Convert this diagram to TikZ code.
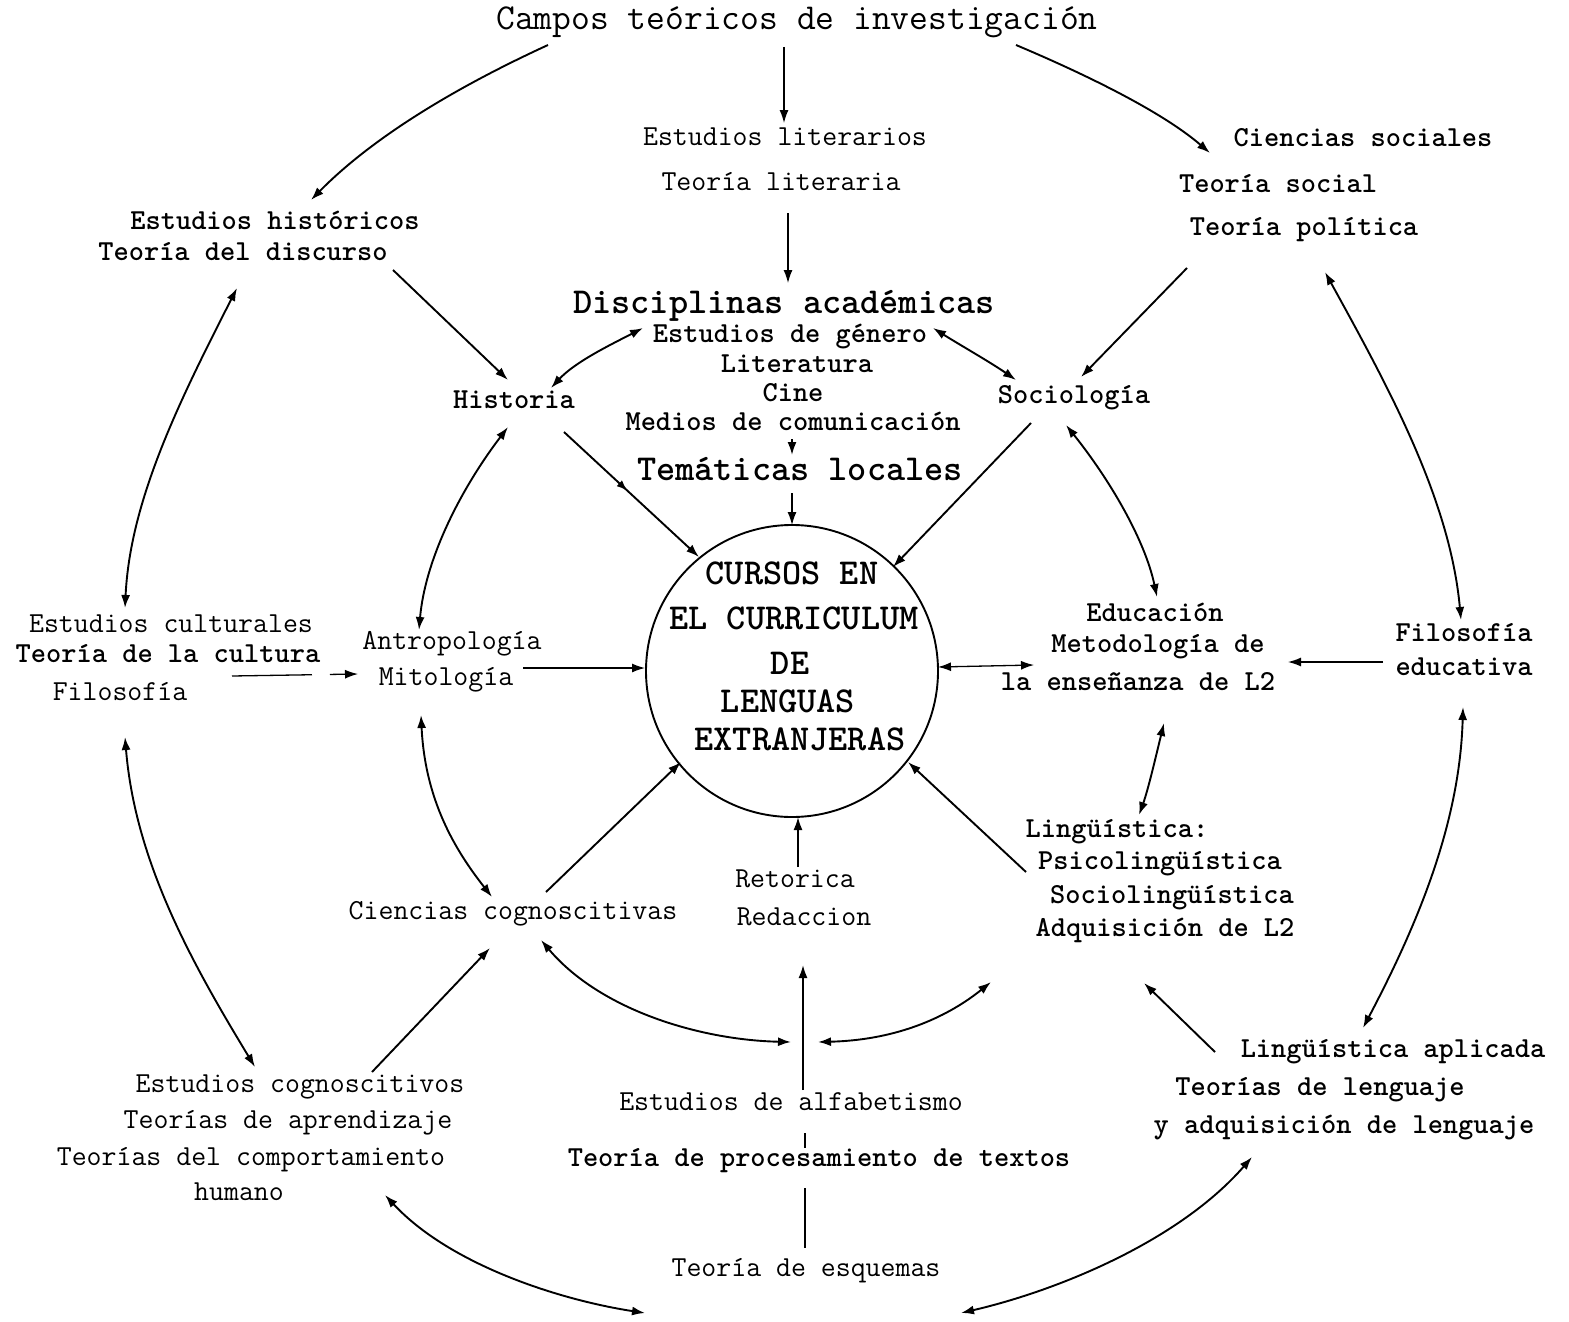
\documentclass[tikz,border=0pt]{standalone}
\usetikzlibrary{arrows.meta,decorations.markings}
\tikzset{
 sm/.style={font=\ttfamily\fontsize{29}{34}\selectfont, inner sep=0pt, text height=15pt, text depth=4pt, anchor=center},
 smb/.style={sm, font=\ttfamily\bfseries\fontsize{29}{34}\selectfont},
 big/.style={font=\ttfamily\fontsize{36.5}{42}\selectfont, inner sep=0pt, text height=20pt, text depth=5pt, anchor=center},
 bigb/.style={big, font=\ttfamily\bfseries\fontsize{36.5}{42}\selectfont},
 tip/.tip={Latex[length=13pt,width=9pt]},
 arr/.style={line width=1.9pt, -tip},
 darr/.style={line width=1.9pt, tip-tip},
 thin/.style={line width=1.3pt},
 midarrow/.style={postaction={decorate}, decoration={markings, mark=at position 0.47 with {\arrow{Latex[length=11pt,width=8pt]}}}}
}
\begin{document}
\begin{tikzpicture}[x=1pt,y={(0pt,-1pt)}]
\fill[white] (0,0) rectangle (1569,1322);
\useasboundingbox (0,0) rectangle (1569,1322);

% ---------- text nodes ----------
\node[big]  (title) at (797,22)  {Campos teóricos de investigación};
\node[sm]   (lit1) at (785,140) {Estudios literarios};
\node[sm]   (lit2) at (781,185) {Teoría literaria};
\node[smb]  (his1) at (275,224) {Estudios históricos};
\node[smb]  (his2) at (243,255) {Teoría del discurso};
\node[smb]  (cs1) at (1363,141) {Ciencias sociales};
\node[smb]  (cs2) at (1278,187) {Teoría social};
\node[smb]  (cs3) at (1304,230) {Teoría política};
\node[bigb] (disc) at (784,306) {Disciplinas académicas};
\node[smb]  (d1) at (790,337) {Estudios de género};
\node[smb]  (d2) at (797,367) {Literatura};
\node[smb]  (d3) at (793,396) {Cine};
\node[smb]  (d4) at (793,425) {Medios de comunicación};
\node[bigb] (tem) at (800,473) {Temáticas locales};
\node[smb]  (histo) at (514,403) {Historia};
\node[smb]  (socio) at (1074,398) {Sociología};

\node[draw, circle, line width=1.9pt, minimum size=292pt, inner sep=0pt] (curso) at (792,671) {};
\node[bigb] (c1) at (792,577) {CURSOS EN};
\node[bigb] (c2) at (794,622) {EL CURRICULUM};
\node[bigb] (c3) at (790,667) {DE};
\node[bigb] (c4) at (788,705) {LENGUAS};
\node[bigb] (c5) at (800,743) {EXTRANJERAS};

\node[smb] (edu1) at (1155,616) {Educación};
\node[smb] (edu2) at (1158,647) {Metodología de};
\node[smb] (edu3) at (1138,685) {la enseñanza de L2};
\node[smb] (fe1) at (1464,636) {Filosofía};
\node[smb] (fe2) at (1464,670) {educativa};
\node[sm]  (cu1) at (171,627) {Estudios culturales};
\node[smb] (cu2) at (168,657) {Teoría de la cultura};
\node[sm]  (cu3) at (120,695) {Filosofía};
\node[sm]  (an1) at (452,644) {Antropología};
\node[sm]  (an2) at (446,680) {Mitología};
\node[smb] (li1) at (1117,832) {Lingüística:};
\node[smb] (li2) at (1160,864) {Psicolingüística};
\node[smb] (li3) at (1172,898) {Sociolingüística};
\node[smb] (li4) at (1165,931) {Adquisición de L2};
\node[sm]  (cog) at (513,914) {Ciencias cognoscitivas};
\node[sm]  (re1) at (795,882) {Retorica};
\node[sm]  (re2) at (804,920) {Redaccion};
\node[sm]  (ec1) at (300,1087) {Estudios cognoscitivos};
\node[sm]  (ec2) at (288,1123) {Teorías de aprendizaje};
\node[sm]  (ec3) at (251,1160) {Teorías del comportamiento};
\node[sm]  (ec4) at (239,1195) {humano};
\node[sm]  (al1) at (791,1105) {Estudios de alfabetismo};
\node[smb] (al2) at (819,1161) {Teoría de procesamiento de textos};
\node[sm]  (al3) at (806,1271) {Teoría de esquemas};
\node[smb] (la1) at (1393,1052) {Lingüística aplicada};
\node[smb] (la2) at (1320,1090) {Teorías de lenguaje};
\node[smb] (la3) at (1344,1128) {y adquisición de lenguaje};

% ---------- connector end points ----------
\coordinate (tA) at (548,45);   \coordinate (hisT) at (311,200);
\coordinate (tB) at (784,47);   \coordinate (litT) at (784,123);
\coordinate (litB) at (788,213); \coordinate (discT) at (788,283);
\coordinate (tC) at (1016,45);  \coordinate (csT) at (1210,153);
\coordinate (his2B) at (393,270); \coordinate (histoT) at (508,380);
\coordinate (d1L) at (643,328); \coordinate (histoR) at (551,388);
\coordinate (d1R) at (933,328); \coordinate (socioT) at (1016,380);
\coordinate (cs3B) at (1187,268); \coordinate (socioT2) at (1081,377);
\coordinate (his2L) at (237,288); \coordinate (cuT) at (125,608);
\coordinate (cs3R) at (1325,272); \coordinate (feT) at (1461,620);
\coordinate (histoB) at (508,427); \coordinate (anT) at (419,630);
\coordinate (histoB2) at (564,432); \coordinate (cNW) at (699,557);
\coordinate (socioB) at (1031,423); \coordinate (cNE) at (893,567);
\coordinate (socioB2) at (1066,425); \coordinate (eduT) at (1157,597);
\coordinate (d4B) at (792,439); \coordinate (temT) at (792,455);
\coordinate (temB) at (792,493); \coordinate (cN) at (792,525);
\coordinate (cuR) at (232,676); \coordinate (anL) at (358,674);
\coordinate (anR) at (523,668); \coordinate (cW) at (645,668);
\coordinate (eduL) at (1034,665); \coordinate (cE) at (938,667);
\coordinate (feL) at (1383,662); \coordinate (eduR) at (1288,662);
\coordinate (anB) at (421,715); \coordinate (cogT) at (492,897);
\coordinate (eduB) at (1164,723); \coordinate (liT) at (1139,815);
\coordinate (liL) at (1026,872); \coordinate (cSE) at (908,762);
\coordinate (cuB) at (125,737); \coordinate (ecT) at (255,1067);
\coordinate (feB) at (1463,707); \coordinate (laT) at (1363,1028);
\coordinate (cogR) at (546,892); \coordinate (cSW) at (681,762);
\coordinate (reT) at (798,867); \coordinate (cS) at (798,817);
\coordinate (ecR) at (372,1072); \coordinate (cogB) at (490,948);
\coordinate (cogB2) at (541,940); \coordinate (vL) at (791,1042);
\coordinate (alT) at (803,1090); \coordinate (reB) at (803,965);
\coordinate (vR) at (818,1042); \coordinate (liB) at (991,982);
\coordinate (laL) at (1215,1052); \coordinate (liB2) at (1144,983);
\coordinate (al1B) at (805,1133); \coordinate (al2T) at (805,1148);
\coordinate (al2B) at (805,1188); \coordinate (al3T) at (805,1248);
\coordinate (ecB) at (385,1195); \coordinate (botL) at (645,1313);
\coordinate (laB) at (1252,1157); \coordinate (botR) at (961,1313);

% ---------- connectors ----------
\draw[arr] (tA) .. controls (450,90) and (370,140) .. (hisT);
\draw[arr, thin] (tB) -- (litT);
\draw[arr, thin] (litB) -- (discT);
\draw[arr] (tC) .. controls (1080,72) and (1160,110) .. (csT);
\draw[arr] (his2B) -- (histoT);
\draw[darr] (d1L) .. controls (610,345) and (575,362) .. (histoR);
\draw[darr] (d1R) .. controls (960,345) and (990,362) .. (socioT);
\draw[arr] (cs3B) -- (socioT2);
\draw[darr] (his2L) .. controls (180,400) and (130,500) .. (cuT);
\draw[darr] (cs3R) .. controls (1390,390) and (1450,500) .. (feT);
\draw[darr] (histoB) .. controls (460,490) and (425,560) .. (anT);
\draw[arr, midarrow] (histoB2) -- (cNW);
\draw[arr] (socioB) -- (cNE);
\draw[darr] (socioB2) .. controls (1110,480) and (1145,540) .. (eduT);
\draw[arr] (d4B) -- (temT);
\draw[arr, thin] (temB) -- (cN);
\draw[arr, thin, dash pattern=on 80pt off 18pt] (cuR) -- (anL);
\draw[arr, thin] (anR) -- (cW);
\draw[darr, thin] (eduL) -- (cE);
\draw[arr, thin] (feL) -- (eduR);
\draw[darr] (anB) .. controls (425,800) and (455,850) .. (cogT);
\draw[darr] (eduB) .. controls (1155,760) and (1148,790) .. (liT);
\draw[arr] (liL) -- (cSE);
\draw[darr] (cuB) .. controls (135,860) and (190,960) .. (ecT);
\draw[darr] (feB) .. controls (1460,820) and (1420,920) .. (laT);
\draw[arr] (cogR) -- (cSW);
\draw[arr] (reT) -- (cS);
\draw[arr] (ecR) -- (cogB);
\draw[darr] (cogB2) .. controls (600,1010) and (700,1040) .. (vL);
\draw[arr] (alT) -- (reB);
\draw[darr] (vR) .. controls (900,1040) and (950,1015) .. (liB);
\draw[arr] (laL) -- (liB2);
\draw[thin] (al1B) -- (al2T);
\draw[thin] (al2B) -- (al3T);
\draw[darr] (ecB) .. controls (450,1265) and (560,1300) .. (botL);
\draw[darr] (laB) .. controls (1180,1240) and (1060,1290) .. (botR);
\end{tikzpicture}
\end{document}
